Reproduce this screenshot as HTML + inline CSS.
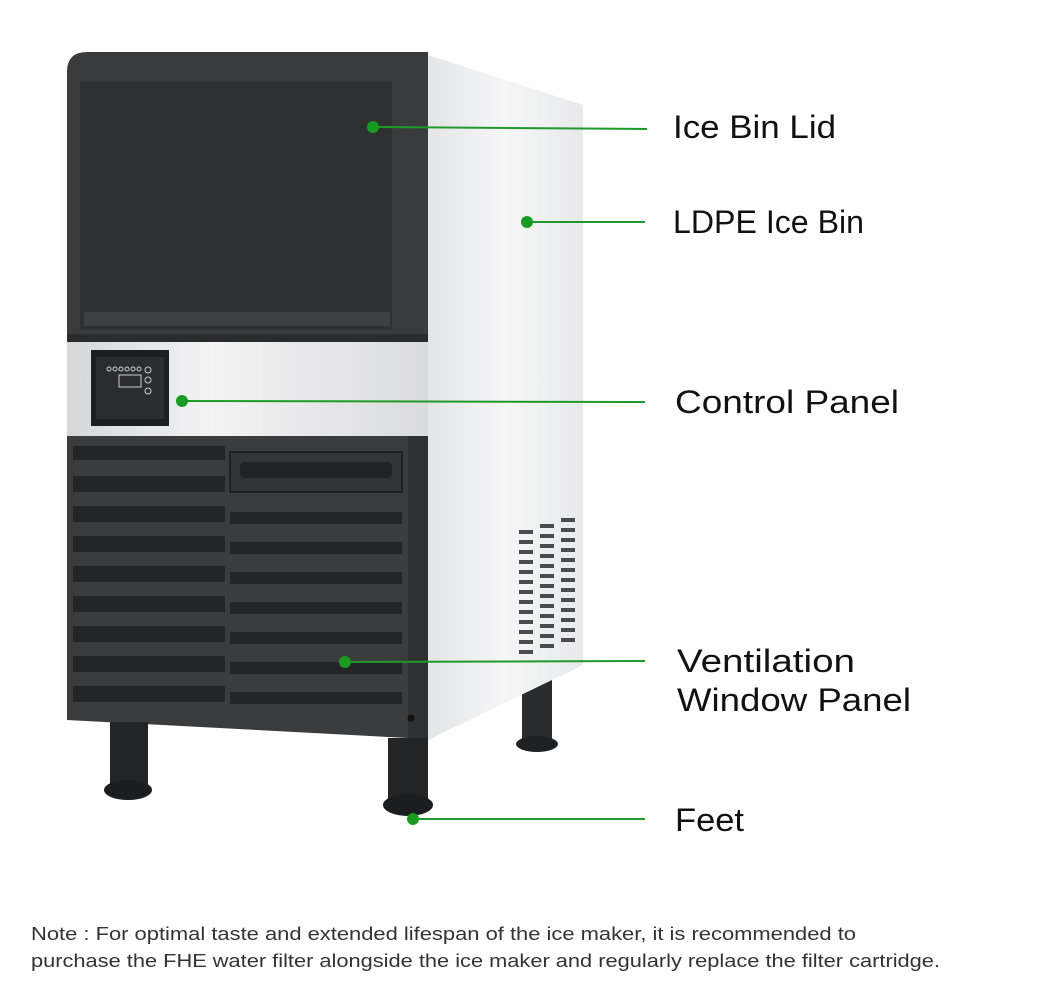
<!DOCTYPE html>
<html><head><meta charset="utf-8"><style>
html,body{margin:0;padding:0;background:#fff;}
svg{display:block;}
text{font-family:"Liberation Sans",sans-serif;}
</style></head><body>
<svg width="1039" height="986" viewBox="0 0 1039 986" xmlns="http://www.w3.org/2000/svg">
<defs>
<linearGradient id="side" x1="0" y1="0" x2="1" y2="0">
<stop offset="0" stop-color="#e4e5e7"/><stop offset="0.5" stop-color="#f6f6f7"/><stop offset="1" stop-color="#e8e9ea"/>
</linearGradient>
<linearGradient id="band" x1="0" y1="0" x2="1" y2="0">
<stop offset="0" stop-color="#d6d7d9"/><stop offset="0.4" stop-color="#f3f3f4"/><stop offset="1" stop-color="#dadbdd"/>
</linearGradient>
</defs>
<rect x="522" y="680" width="30" height="62" fill="#2b2c2e"/>
<ellipse cx="537" cy="744" rx="21" ry="8" fill="#1f2022"/>
<polygon points="428,55 583,105 583,665 428,740" fill="url(#side)"/>
<g fill="#4a4b4d">
<g id="vc">
<rect x="519" y="530" width="14" height="4"/><rect x="519" y="540" width="14" height="4"/><rect x="519" y="550" width="14" height="4"/><rect x="519" y="560" width="14" height="4"/><rect x="519" y="570" width="14" height="4"/><rect x="519" y="580" width="14" height="4"/><rect x="519" y="590" width="14" height="4"/><rect x="519" y="600" width="14" height="4"/><rect x="519" y="610" width="14" height="4"/><rect x="519" y="620" width="14" height="4"/><rect x="519" y="630" width="14" height="4"/><rect x="519" y="640" width="14" height="4"/><rect x="519" y="650" width="14" height="4"/>
</g>
<use href="#vc" x="21" y="-6"/><use href="#vc" x="42" y="-12"/>
</g>
<path d="M67,72 Q67,52 87,52 L428,52 L428,340 L67,340 Z" fill="#3a3b3d"/>
<rect x="80" y="82" width="312" height="248" fill="#2e3032"/>
<rect x="84" y="312" width="306" height="14" fill="#3d3f41"/>
<rect x="67" y="334" width="361" height="8" fill="#2a2b2d"/>
<rect x="67" y="342" width="361" height="94" fill="url(#band)"/>
<rect x="91" y="350" width="78" height="76" fill="#1d1e20"/>
<rect x="96" y="357" width="68" height="62" fill="#2c2d2f"/>
<rect x="119" y="375" width="22" height="12" fill="none" stroke="#ccc" stroke-width="1"/>
<g fill="none" stroke="#ccc" stroke-width="1">
<circle cx="109" cy="369" r="2"/><circle cx="115" cy="369" r="2"/><circle cx="121" cy="369" r="2"/><circle cx="127" cy="369" r="2"/><circle cx="133" cy="369" r="2"/><circle cx="139" cy="369" r="2"/>
<circle cx="148" cy="370" r="3"/><circle cx="148" cy="380" r="3"/><circle cx="148" cy="391" r="3"/>
</g>
<polygon points="67,436 428,436 428,740 408,738 67,720" fill="#3b3c3e"/>
<g fill="#242527">
<rect x="73" y="446" width="152" height="14"/>
<rect x="73" y="476" width="152" height="16"/><rect x="230" y="482" width="172" height="10"/>
<rect x="73" y="506" width="152" height="16"/><rect x="230" y="512" width="172" height="12"/>
<rect x="73" y="536" width="152" height="16"/><rect x="230" y="542" width="172" height="12"/>
<rect x="73" y="566" width="152" height="16"/><rect x="230" y="572" width="172" height="12"/>
<rect x="73" y="596" width="152" height="16"/><rect x="230" y="602" width="172" height="12"/>
<rect x="73" y="626" width="152" height="16"/><rect x="230" y="632" width="172" height="12"/>
<rect x="73" y="656" width="152" height="16"/><rect x="230" y="662" width="172" height="12"/>
<rect x="73" y="686" width="152" height="16"/><rect x="230" y="692" width="172" height="12"/>
</g>
<rect x="230" y="452" width="172" height="40" fill="#333436" stroke="#1f2022" stroke-width="2"/>
<rect x="240" y="462" width="152" height="16" rx="4" fill="#222325"/>
<rect x="408" y="436" width="20" height="304" fill="#2f3032"/>
<circle cx="411" cy="718" r="3.5" fill="#111"/>
<rect x="110" y="722" width="38" height="66" fill="#232426"/>
<ellipse cx="128" cy="790" rx="24" ry="10" fill="#1c1d1f"/>
<rect x="388" y="738" width="40" height="64" fill="#232426"/>
<ellipse cx="408" cy="805" rx="25" ry="11" fill="#1c1d1f"/>
<g stroke="#1f9a2a" stroke-width="2" fill="#1a9a22">
<line x1="373" y1="127" x2="647" y2="129"/><circle cx="373" cy="127" r="6" stroke="none"/>
<line x1="527" y1="222" x2="645" y2="222"/><circle cx="527" cy="222" r="6" stroke="none"/>
<line x1="182" y1="401" x2="645" y2="402"/><circle cx="182" cy="401" r="6" stroke="none"/>
<line x1="345" y1="662" x2="645" y2="661"/><circle cx="345" cy="662" r="6" stroke="none"/>
<line x1="413" y1="819" x2="645" y2="819"/><circle cx="413" cy="819" r="6" stroke="none"/>
</g>
<g fill="#111" font-size="32">
<text x="673" y="138" textLength="163" lengthAdjust="spacingAndGlyphs">Ice Bin Lid</text>
<text x="673" y="233" textLength="191" lengthAdjust="spacingAndGlyphs">LDPE Ice Bin</text>
<text x="675" y="413" textLength="224" lengthAdjust="spacingAndGlyphs">Control Panel</text>
<text x="677" y="672" textLength="178" lengthAdjust="spacingAndGlyphs">Ventilation</text>
<text x="677" y="711" textLength="234" lengthAdjust="spacingAndGlyphs">Window Panel</text>
<text x="675" y="831" textLength="69" lengthAdjust="spacingAndGlyphs">Feet</text>
</g>
<g fill="#333" font-size="18">
<text x="31" y="940" textLength="825" lengthAdjust="spacingAndGlyphs">Note : For optimal taste and extended lifespan of the ice maker, it is recommended to</text>
<text x="31" y="967" textLength="909" lengthAdjust="spacingAndGlyphs">purchase the FHE water filter alongside the ice maker and regularly replace the filter cartridge.</text>
</g>
</svg>
</body></html>
